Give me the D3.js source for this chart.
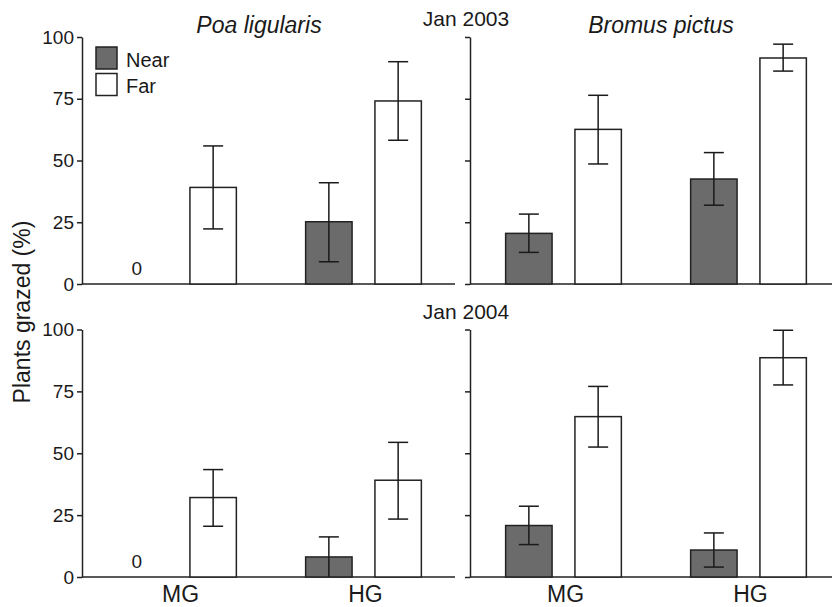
<!DOCTYPE html>
<html lang="en">
<head>
    <meta charset="UTF-8">
    <title>Plants grazed</title>
    <script src="https://cdn.jsdelivr.net/npm/d3@7.8.5/dist/d3.min.js"></script>
    <style>
        * { margin: 0; padding: 0; }
        body { background: #fff; }
        svg text { font-family: 'Liberation Sans', Arial, Helvetica, sans-serif; fill: #1a1a1a; }
        .axis path, .axis line { stroke: #222; stroke-width: 1.5px; }
        .axis text { font-size: 19px; }
    </style>
</head>
<body>
<svg id="chart" width="832" height="607"></svg>
<script>
    // categories
    const grazing = ["MG", "HG"];
    const distances = ["Near", "Far"];
    const yTicks = [0, 25, 50, 75, 100];

    // [mean, lower, upper] per grazing level (MG, HG)
    const poa2003Near = [[0, 0, 0], [25.2, 9.0, 41.0]];
    const poa2003Far = [[39.1, 22.3, 55.9], [74.1, 58.2, 90.0]];
    const bromus2003Near = [[20.5, 12.8, 28.3], [42.5, 31.9, 53.2]];
    const bromus2003Far = [[62.6, 48.6, 76.4], [91.5, 86.2, 97.1]];
    const poa2004Near = [[0, 0, 0], [8.1, 0, 16.2]];
    const poa2004Far = [[32.1, 20.5, 43.4], [39.1, 23.4, 54.4]];
    const bromus2004Near = [[20.8, 13.1, 28.6], [10.9, 4.0, 17.8]];
    const bromus2004Far = [[64.8, 52.5, 77.0], [88.6, 77.6, 99.7]];

    const svg = d3.select("#chart");
    const W = 832;

    // panel layout
    const rows = [{ top: 37, bottom: 284, label: "Jan 2003" }, { top: 329.5, bottom: 577, label: "Jan 2004" }];
    const cols = [
        { x0: 82, bandStart: 86, title: "Poa ligularis", titleX: 259 },
        { x0: 470, bandStart: 471, title: "Bromus pictus", titleX: 661 }
    ];

    const panels = [
        { r: 0, c: 0, near: poa2003Near, far: poa2003Far },
        { r: 0, c: 1, near: bromus2003Near, far: bromus2003Far },
        { r: 1, c: 0, near: poa2004Near, far: poa2004Far },
        { r: 1, c: 1, near: bromus2004Near, far: bromus2004Far }
    ];

    const fills = { Near: "#6b6b6b", Far: "#ffffff" };

    panels.forEach(p => {
        const row = rows[p.r], col = cols[p.c];
        const y = d3.scaleLinear().domain([0, 100]).range([row.bottom, row.top]);
        const x = d3.scaleBand().domain(grazing).range([col.bandStart, col.bandStart + 370]);
        const xs = d3.scaleBand().domain(distances).range([0, x.bandwidth()])
            .paddingInner(0.33).paddingOuter(0.5);

        const g = svg.append("g");

        // y axis
        const yAxis = d3.axisLeft(y).tickValues(yTicks).tickSize(5).tickSizeOuter(0).tickPadding(3);
        if (p.c === 1) yAxis.tickFormat("");
        g.append("g").attr("class", "axis")
            .attr("transform", `translate(${col.x0},0)`)
            .call(yAxis);

        // x baseline
        g.append("line")
            .attr("x1", col.x0).attr("x2", Math.min(col.x0 + 373, W))
            .attr("y1", y(0)).attr("y2", y(0))
            .attr("stroke", "#222").attr("stroke-width", 1.5);

        const bars = [];
        grazing.forEach((gr, i) => {
            bars.push({ group: gr, dist: "Near", v: p.near[i] });
            bars.push({ group: gr, dist: "Far", v: p.far[i] });
        });

        bars.forEach(b => {
            const bx = x(b.group) + xs(b.dist);
            const cx = bx + xs.bandwidth() / 2;
            if (b.v[0] === 0) {
                g.append("text")
                    .attr("x", cx - 7).attr("y", y(0) - 9)
                    .attr("text-anchor", "middle")
                    .style("font-size", "19px")
                    .text("0");
                return;
            }
            g.append("rect")
                .attr("x", bx).attr("width", xs.bandwidth())
                .attr("y", y(b.v[0])).attr("height", y(0) - y(b.v[0]))
                .attr("fill", fills[b.dist])
                .attr("stroke", "#222").attr("stroke-width", 1.5);
            // error bar
            const cap = 10;
            g.append("line").attr("x1", cx).attr("x2", cx)
                .attr("y1", y(b.v[1])).attr("y2", y(b.v[2]))
                .attr("stroke", "#1a1a1a").attr("stroke-width", 1.5);
            [b.v[1], b.v[2]].forEach(e => {
                if (e === 0) return;
                g.append("line").attr("x1", cx - cap).attr("x2", cx + cap)
                    .attr("y1", y(e)).attr("y2", y(e))
                    .attr("stroke", "#1a1a1a").attr("stroke-width", 1.5);
            });
        });

        // category labels at the bottom
        if (p.r === 1) {
            grazing.forEach(gr => {
                g.append("text")
                    .attr("x", x(gr) + x.bandwidth() / 2 + 2)
                    .attr("y", 602)
                    .attr("text-anchor", "middle")
                    .style("font-size", "23px")
                    .text(gr);
            });
        }

        // species titles
        if (p.r === 0) {
            g.append("text")
                .attr("x", col.titleX)
                .attr("y", 33)
                .attr("text-anchor", "middle")
                .style("font-size", "23px")
                .style("font-style", "italic")
                .text(col.title);
        }
    });

    // date labels
    rows.forEach(row => {
        svg.append("text")
            .attr("x", 466)
            .attr("y", row.top - 11)
            .attr("text-anchor", "middle")
            .style("font-size", "21px")
            .text(row.label);
    });

    // legend
    const legend = svg.append("g").attr("transform", "translate(96,47)");
    distances.forEach((d, i) => {
        const lg = legend.append("g").attr("transform", `translate(0,${i * 26.5})`);
        lg.append("rect")
            .attr("width", 21).attr("height", 22)
            .attr("fill", fills[d])
            .attr("stroke", "#222").attr("stroke-width", 1.5);
        lg.append("text")
            .attr("x", 30).attr("y", 19.5)
            .style("font-size", "20px")
            .text(d);
    });

    // y axis title
    svg.append("text")
        .attr("transform", "translate(30,312) rotate(-90)")
        .attr("text-anchor", "middle")
        .style("font-size", "23px")
        .text("Plants grazed (%)");
</script>
</body>
</html>
